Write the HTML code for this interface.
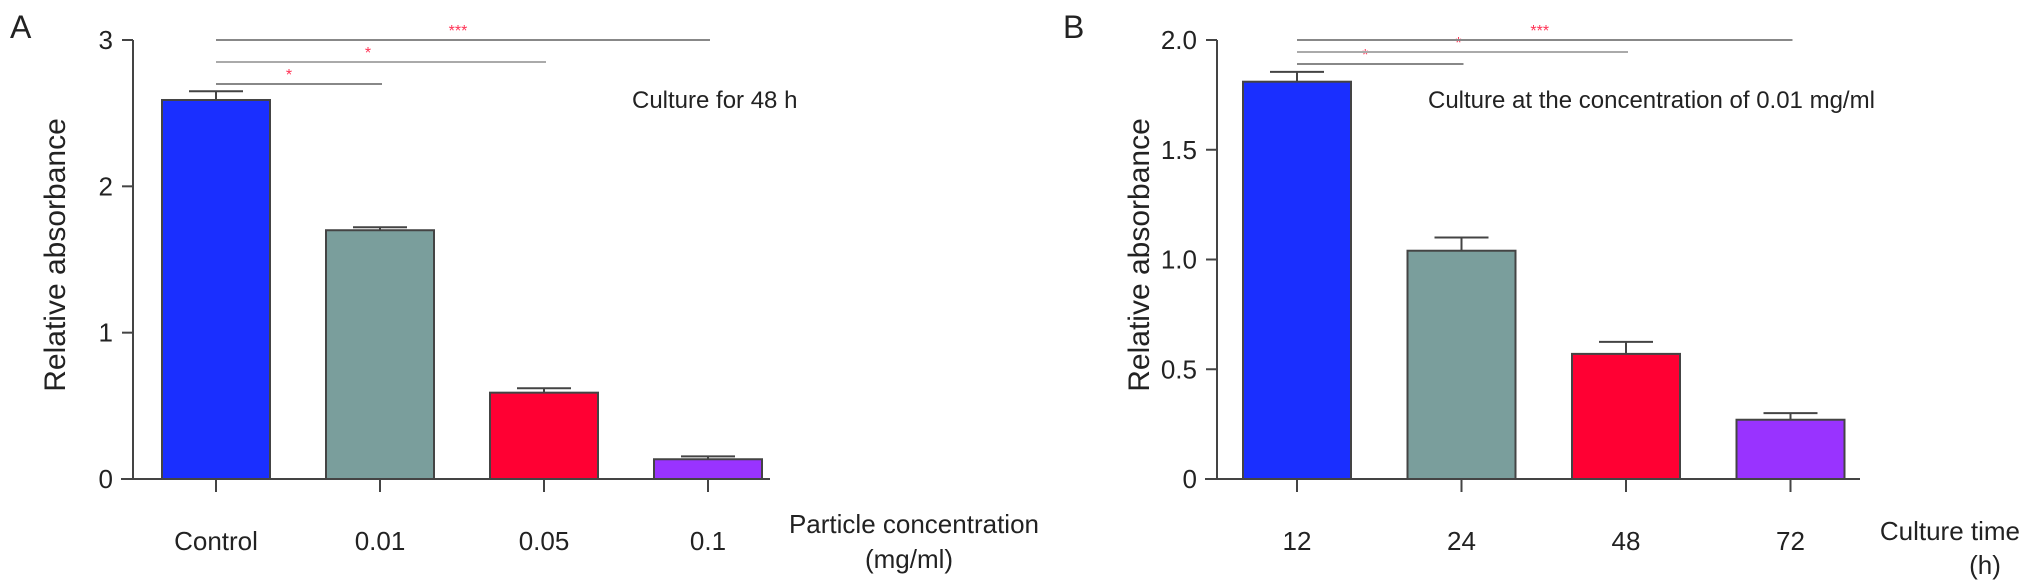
<!DOCTYPE html>
<html><head><meta charset="utf-8"><style>
html,body{margin:0;padding:0;background:#fff;}
svg{display:block;font-family:"Liberation Sans",Arial,sans-serif;}
</style></head><body>
<svg id="chart" width="2031" height="587" viewBox="0 0 2031 587"></svg>
<script>
const catsA = ["Control","0.01","0.05","0.1"];
const valsA = [2.59,1.70,0.59,0.135];
const errA = [0.06,0.02,0.03,0.02];
const ticksA = [0,1,2,3];
const tickLabelsA = ["0","1","2","3"];
const catsB = ["12","24","48","72"];
const valsB = [1.81,1.04,0.57,0.27];
const errB = [0.045,0.06,0.055,0.03];
const ticksB = [0,0.5,1,1.5,2];
const tickLabelsB = ["0","0.5","1.0","1.5","2.0"];
const colors = ["#1a2fff","#7a9e9c","#ff0033","#9933ff"];
const sigA = [{from:0,to:1,label:"*"},{from:0,to:2,label:"*"},{from:0,to:3,label:"***"}];
const sigB = [{from:0,to:1,label:"*"},{from:0,to:2,label:"*"},{from:0,to:3,label:"***"}];

const NS="http://www.w3.org/2000/svg";
const svg=document.getElementById('chart');
function mk(tag,attrs,parent){const e=document.createElementNS(NS,tag);for(const k in attrs)e.setAttribute(k,attrs[k]);(parent||svg).appendChild(e);return e;}

function panel(o){
  const g=mk('g',{});
  
  
  const y=v=>o.y0-(v/o.ymax)*(o.y0-o.ytop);
  const x=i=>o.x0+i*o.step;
  const L=mk('text',{x:o.letterX,y:38,'font-size':32,fill:'#222'},g);L.textContent=o.letter;
  
  
  const ya=mk('line',{x1:o.axisX,x2:o.axisX,y1:o.ytop,y2:o.y0,stroke:'#444','stroke-width':2},g);
  
  
  const xa=mk('line',{x1:o.axisX-12,x2:o.xEnd,y1:o.y0,y2:o.y0,stroke:'#444','stroke-width':2},g);
  
  
  o.ticks.forEach((t,i)=>{
    mk('line',{x1:o.axisX-11,x2:o.axisX,y1:y(t),y2:y(t),stroke:'#444','stroke-width':2},g);
    const tl=mk('text',{x:o.axisX-20,y:y(t)+9,'font-size':26,'text-anchor':'end',fill:'#222'},g);
    tl.textContent=o.tickLabels[i];
    
    
  });
  const yt=mk('text',{x:0,y:0,'font-size':30,'text-anchor':'middle',fill:'#222',transform:`translate(${o.axisX-68},255) rotate(-90)`},g);
  yt.textContent='Relative absorbance';
  
  
  o.cats.forEach((c,i)=>{
    const cx=x(i),top=y(o.vals[i]);
    const b=mk('rect',{x:cx-54,y:top,width:108,height:o.y0-top,fill:colors[i],stroke:'#444','stroke-width':2},g);
    
    
    const et=y(o.vals[i]+o.err[i]);
    mk('line',{x1:cx,x2:cx,y1:top,y2:et,stroke:'#444','stroke-width':2},g);
    const eb=mk('line',{x1:cx-27,x2:cx+27,y1:et,y2:et,stroke:'#444','stroke-width':2},g);
    
    
    mk('line',{x1:cx,x2:cx,y1:o.y0,y2:o.y0+13,stroke:'#444','stroke-width':2},g);
    const xl=mk('text',{x:cx,y:550,'font-size':26,'text-anchor':'middle',fill:'#222'},g);
    xl.textContent=c;
    
    
  });
  o.sig.forEach((s,k)=>{
    const ly=o.sigY[k];
    const ln=mk('line',{x1:x(s.from),x2:x(s.to)+2,y1:ly,y2:ly,stroke:k===1?'#aaa':'#888','stroke-width':2},g);
    
    
    const st=mk('text',{x:(x(s.from)+x(s.to))/2+o.starOff[k],y:ly-4,'font-size':16,'text-anchor':'middle',fill:'#ff3355'},g);
    st.textContent=s.label;
    
    
  });
  const an=mk('text',{x:o.noteX,y:108,'font-size':24,fill:'#222'},g);
  an.textContent=o.note;
  
  
  o.xtitle.forEach((t,i)=>{
    const xt=mk('text',{x:t[0],y:t[1],'font-size':26,'text-anchor':t[2],fill:'#222'},g);
    xt.textContent=t[3];
    
    
  });
}
panel({name:'panel-a',letter:'A',letterX:10,axisX:133,x0:216,step:164,y0:479,ytop:40,ymax:3,xEnd:770,
  cats:catsA,vals:valsA,err:errA,ticks:ticksA,tickLabels:tickLabelsA,sig:sigA,sigY:[84,62,40],starOff:[-9,-12,-4],
  noteX:632,note:'Culture for 48 h',
  xtitle:[[1039,533,'end','Particle concentration'],[909,568,'middle','(mg/ml)']]});
panel({name:'panel-b',letter:'B',letterX:1063,axisX:1217,x0:1297,step:164.5,y0:479,ytop:40,ymax:2,xEnd:1860,
  cats:catsB,vals:valsB,err:errB,ticks:ticksB,tickLabels:tickLabelsB,sig:sigB,sigY:[64,52,40],starOff:[-14,-3,-4],
  noteX:1428,note:'Culture at the concentration of 0.01 mg/ml',
  xtitle:[[2020,540,'end','Culture time'],[1985,574,'middle','(h)']]});
</script>
</body></html>
